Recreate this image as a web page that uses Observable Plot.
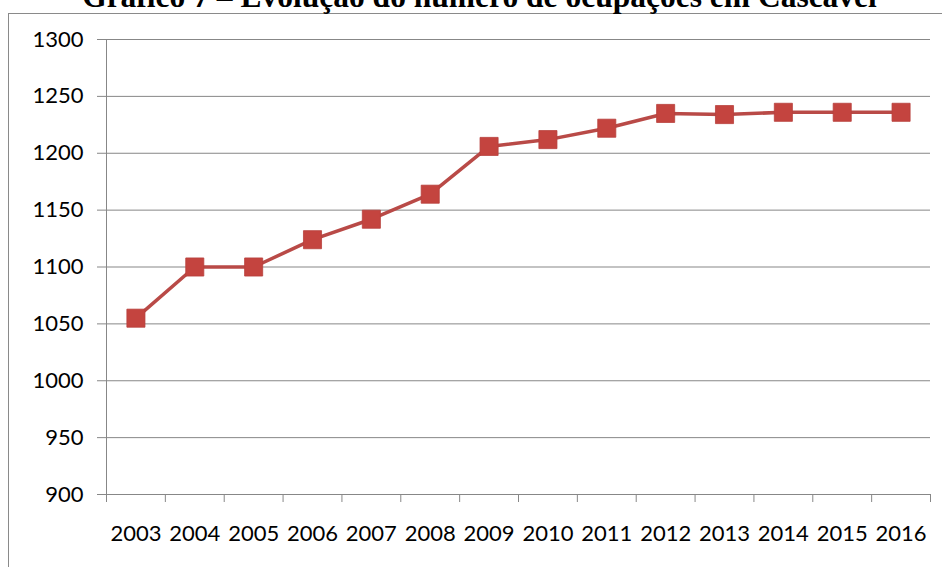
<!DOCTYPE html>
<html lang="pt-BR">
<head>
<meta charset="utf-8">
<script src="https://cdn.jsdelivr.net/npm/d3@7"></script>
<script src="https://cdn.jsdelivr.net/npm/@observablehq/plot@0.6"></script>
<style>
  html, body { margin: 0; padding: 0; background: #fff; }
  body { width: 942px; height: 567px; overflow: hidden; position: relative; }
  #frame {
    position: absolute; left: 8px; top: 13px;
    width: 1000px; height: 700px;
    border: 1px solid #8a8a8a; box-sizing: border-box;
  }
  #title {
    position: absolute; left: 0; top: -19px; width: 959px;
    text-align: center; white-space: nowrap;
    font-family: "Liberation Serif", "Times New Roman", serif;
    font-weight: bold; font-size: 31.5px; line-height: 31.5px; color: #000;
  }
  #chart { position: absolute; left: 0; top: 0; }
</style>
</head>
<body>
<div id="frame"></div>
<div id="chart"></div>
<div id="title">Gráfico 7 – Evolução do número de ocupações em Cascavel</div>
<script>
// Número de ocupações por ano
const years = [2003, 2004, 2005, 2006, 2007, 2008, 2009, 2010, 2011, 2012, 2013, 2014, 2015, 2016];
const ocupacoes = [1055, 1100, 1100, 1124, 1142, 1164, 1206, 1212, 1222, 1235, 1234, 1236, 1236, 1236];
const yTicks = [900, 950, 1000, 1050, 1100, 1150, 1200, 1250, 1300];

const data = years.map((year, i) => ({year, value: ocupacoes[i]}));

// Category boundaries between consecutive years (for the x-axis tick marks)
const bounds = years.map(y => y - 0.5).concat([years[years.length - 1] + 0.5]);

const gray = "#878787";
const lineColor = "#b94a47";
const markerColor = "#c4443f";

const chart = Plot.plot({
  width: 942,
  height: 567,
  marginLeft: 106,
  marginRight: 12,
  marginTop: 39,
  marginBottom: 73,
  x: {domain: [bounds[0], bounds[bounds.length - 1]]},
  y: {domain: [yTicks[0], yTicks[yTicks.length - 1]]},
  style: {fontFamily: "Lato, 'Open Sans', sans-serif", fontSize: "22px", color: "#000", background: "transparent"},
  marks: [
    Plot.gridY(yTicks, {stroke: gray, strokeOpacity: 1, strokeWidth: 1}),
    Plot.ruleX([bounds[0]], {stroke: gray, strokeWidth: 1}),
    Plot.axisY(yTicks, {anchor: "left", tickSize: 9, tickPadding: 14, tickFormat: "d", stroke: gray, fill: "#000", label: null}),
    Plot.axisX(bounds, {anchor: "bottom", tickSize: 8, tickFormat: () => "", stroke: gray, label: null}),
    Plot.axisX(years, {anchor: "bottom", tickSize: 0, tickPadding: 31, tickFormat: "d", fill: "#000", label: null}),
    Plot.line(data, {x: "year", y: "value", stroke: lineColor, strokeWidth: 3.5}),
    Plot.dot(data, {x: "year", y: "value", symbol: "square", r: 10.2, fill: markerColor, stroke: "#b8403c", strokeWidth: 0.8})
  ]
});

document.getElementById("chart").append(chart);
</script>
</body>
</html>
